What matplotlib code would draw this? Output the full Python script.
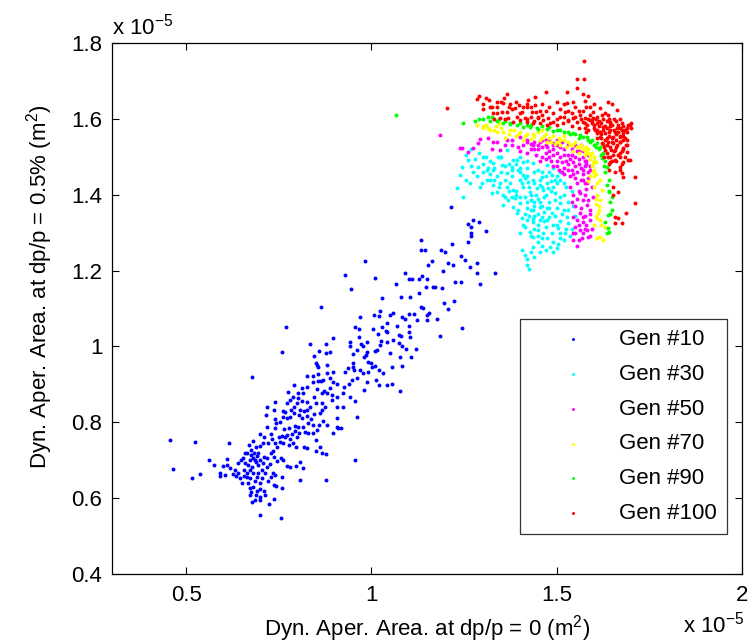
import matplotlib
matplotlib.use("Agg")
import matplotlib.pyplot as plt

# ---------------- data (units of 1e-5 m^2) ----------------
gen10 = [(0.456,0.753),(0.464,0.677),(0.524,0.748),(0.516,0.653),(0.537,0.664),(0.562,0.70),(0.575,0.687),(0.616,0.746),(0.678,0.919),(0.759,0.985),(0.770,1.051),(0.864,1.104),(0.929,1.188),(0.945,1.151),(0.983,1.225),(1.010,1.180),(1.029,1.128),(1.066,1.165),(1.215,1.368),(1.274,1.333),(1.290,1.328),(1.309,1.304),(1.261,1.323),(1.269,1.315),(1.269,1.299),(1.269,1.291),(1.261,1.275),(1.217,1.270),(1.333,1.194),(1.293,1.165),(1.285,1.194),(1.285,1.220),(1.266,1.209),(1.253,1.228),(1.242,1.238),(1.220,1.215),(1.207,1.220),(1.193,1.199),(1.188,1.254),(1.199,1.249),(1.163,1.225),(1.153,1.215),(1.134,1.254),(1.145,1.254),(1.134,1.280),(1.226,1.170),(1.242,1.170),(1.223,1.120),(1.207,1.099),(1.196,1.115),(1.244,1.049),(1.185,1.028),(1.177,1.072),(1.155,1.088),(1.150,1.083),(1.150,1.070),(1.134,1.104),(1.139,1.101),(1.172,1.157),(1.190,1.154),(1.166,1.157),(1.147,1.157),(1.128,1.141),(1.104,1.130),(1.080,1.130),(1.101,1.178),(1.109,1.178),(1.128,1.178),(1.136,1.186),(1.150,1.178),(1.091,1.194),(1.115,1.086),(1.101,1.086),(1.091,1.072),(1.082,1.078),(1.069,1.054),(1.058,1.088),(1.050,1.083),(1.042,1.062),(1.039,1.041),(1.029,1.051),(1.021,1.080),(1.023,1.093),(1.007,1.083),(1.004,1.046),(1.018,1.033),(1.042,1.038),(1.074,1.030),(1.080,1.028),(1.101,1.038),(1.101,1.054),(1.058,1.017),(1.074,1.009),(1.082,1.001),(1.093,0.993),(1.120,0.993),(1.107,0.972),(1.082,0.948),(1.077,0.883),(1.056,0.901),(1.042,0.898),(1.021,0.898),(1.012,0.912),(0.980,0.885),(0.988,0.906),(1.010,0.948),(1.021,0.938),(1.010,0.988),(1.015,0.991),(1.023,1.004),(1.026,1.014),(0.988,0.985),(0.985,0.977),(0.980,0.972),(1.002,0.946),(0.961,0.991),(0.972,1.006),(0.942,1.012),(0.942,1.001),(0.950,0.980),(0.967,1.025),(0.967,1.046),(0.956,1.051),(0.969,1.078),(0.896,1.022),(0.877,1.006),(0.888,0.985),(0.877,0.983),(0.858,0.988),(0.845,0.975),(0.834,1.006),(0.850,0.956),(0.853,0.951),(0.880,0.951),(0.896,0.933),(0.880,0.930),(0.856,0.927),(0.826,0.922),(0.842,0.922),(0.856,0.909),(0.864,0.909),(0.888,0.917),(0.896,0.906),(0.888,0.891),(0.907,0.901),(0.929,0.933),(0.937,0.943),(0.950,0.946),(0.953,0.938),(0.969,0.938),(0.961,0.917),(0.948,0.912),(0.940,0.901),(0.923,0.877),(0.926,0.893),(0.942,0.867),(0.956,0.856),(0.923,0.840),(0.907,0.811),(0.896,0.772),(0.910,0.785),(0.918,0.785),(0.961,0.814),(0.956,0.701),(0.877,0.648),(0.877,0.716),(0.867,0.719),(0.850,0.724),(0.861,0.735),(0.850,0.753),(0.853,0.780),(0.858,0.793),(0.869,0.803),(0.867,0.832),(0.875,0.840),(0.867,0.851),(0.850,0.851),(0.845,0.867),(0.853,0.888),(0.872,0.883),(0.867,0.877),(0.842,0.906),(0.826,0.893),(0.815,0.877),(0.802,0.877),(0.791,0.898),(0.775,0.880),(0.780,0.859),(0.799,0.851),(0.812,0.856),(0.826,0.853),(0.834,0.840),(0.826,0.832),(0.818,0.830),(0.807,0.832),(0.791,0.824),(0.783,0.832),(0.767,0.827),(0.762,0.814),(0.772,0.811),(0.780,0.814),(0.805,0.819),(0.813,0.811),(0.826,0.816),(0.837,0.809),(0.845,0.822),(0.829,0.798),(0.842,0.793),(0.815,0.788),(0.802,0.788),(0.794,0.790),(0.778,0.785),(0.764,0.782),(0.740,0.785),(0.718,0.788),(0.742,0.798),(0.753,0.801),(0.740,0.809),(0.762,0.830),(0.737,0.832),(0.718,0.840),(0.740,0.853),(0.716,0.819),(0.794,0.777),(0.786,0.769),(0.772,0.767),(0.767,0.761),(0.780,0.756),(0.799,0.761),(0.805,0.772),(0.821,0.775),(0.829,0.772),(0.818,0.735),(0.826,0.732),(0.797,0.735),(0.788,0.746),(0.778,0.740),(0.762,0.746),(0.753,0.748),(0.740,0.746),(0.732,0.756),(0.721,0.746),(0.707,0.746),(0.699,0.738),(0.689,0.735),(0.681,0.751),(0.670,0.740),(0.664,0.719),(0.675,0.727),(0.683,0.719),(0.691,0.711),(0.681,0.706),(0.672,0.701),(0.689,0.695),(0.694,0.687),(0.678,0.682),(0.667,0.687),(0.654,0.706),(0.659,0.693),(0.648,0.701),(0.640,0.693),(0.632,0.674),(0.640,0.666),(0.627,0.664),(0.645,0.653),(0.656,0.659),(0.664,0.666),(0.672,0.674),(0.681,0.666),(0.672,0.653),(0.667,0.640),(0.672,0.627),(0.681,0.629),(0.699,0.640),(0.704,0.653),(0.713,0.666),(0.718,0.682),(0.707,0.693),(0.710,0.709),(0.718,0.706),(0.729,0.719),(0.737,0.709),(0.745,0.698),(0.756,0.706),(0.762,0.701),(0.772,0.685),(0.780,0.682),(0.796,0.685),(0.807,0.695),(0.815,0.680),(0.807,0.648),(0.759,0.656),(0.740,0.661),(0.734,0.666),(0.737,0.635),(0.742,0.632),(0.759,0.627),(0.737,0.598),(0.713,0.608),(0.699,0.603),(0.689,0.608),(0.672,0.608),(0.678,0.590),(0.686,0.595),(0.699,0.595),(0.724,0.585),(0.699,0.556),(0.756,0.548),(0.610,0.703),(0.610,0.687),(0.600,0.685),(0.591,0.666),(0.592,0.658),(0.605,0.661),(0.618,0.680),(0.635,0.659),(0.791,0.840),(0.802,0.864),(0.788,0.867),(0.772,0.851),(0.813,0.891),(0.856,0.946),(0.869,0.912),(0.880,0.877),(0.894,0.859),(0.907,0.867),(0.894,0.872),(0.907,0.840),(0.861,0.824),(0.842,0.772),(0.880,0.793),(0.907,0.788),(0.977,0.930),(0.991,0.933),(0.999,0.956),(1.031,0.930),(1.056,0.946),(1.104,1.025),(1.123,1.070),(1.077,0.972),(1.050,0.983),(1.042,1.012),(0.988,1.012),(0.977,1.001),(0.991,0.959),(0.950,0.956),(0.66,0.72),(0.695,0.72),(0.70,0.70),(0.685,0.70),(0.675,0.715),(0.695,0.665),(0.705,0.675),(0.69,0.655),(0.685,0.645),(0.70,0.625),(0.69,0.62),(0.675,0.615),(0.71,0.62),(0.72,0.645),(0.73,0.655),(0.725,0.69),(0.735,0.725),(0.745,0.735),(0.75,0.76),(0.76,0.765),(0.73,0.77),(0.71,0.76),(0.70,0.77),(0.655,0.675),(0.665,0.655),(0.65,0.64)]

gen30 = [(1.301,1.481),(1.315,1.470),(1.328,1.465),(1.342,1.499),(1.352,1.478),(1.366,1.457),(1.379,1.473),(1.393,1.492),(1.401,1.470),(1.409,1.452),(1.423,1.434),(1.436,1.484),(1.450,1.465),(1.460,1.447),(1.474,1.478),(1.487,1.452),(1.501,1.431),(1.509,1.394),(1.495,1.405),(1.477,1.418),(1.463,1.413),(1.447,1.418),(1.428,1.407),(1.414,1.394),(1.401,1.378),(1.420,1.365),(1.436,1.360),(1.455,1.368),(1.474,1.365),(1.487,1.352),(1.474,1.333),(1.455,1.333),(1.436,1.328),(1.420,1.333),(1.406,1.339),(1.409,1.320),(1.428,1.302),(1.436,1.289),(1.450,1.307),(1.463,1.299),(1.474,1.286),(1.487,1.299),(1.503,1.312),(1.509,1.286),(1.522,1.299),(1.531,1.325),(1.528,1.341),(1.501,1.365),(1.509,1.378),(1.406,1.254),(1.414,1.241),(1.420,1.215),(1.425,1.205),(1.436,1.262),(1.450,1.275),(1.482,1.262),(1.503,1.270),(1.366,1.420),(1.382,1.413),(1.388,1.392),(1.374,1.431),(1.347,1.431),(1.328,1.426),(1.312,1.439),(1.298,1.431),(1.325,1.405),(1.339,1.407),(1.355,1.399),(1.369,1.386),(1.382,1.368),(1.393,1.352),(1.355,1.373),(1.244,1.473),(1.261,1.492),(1.239,1.452),(1.231,1.418),(1.266,1.431),(1.274,1.460),(1.247,1.394),(1.288,1.473),(1.293,1.420),(1.312,1.465),(1.320,1.439),(1.328,1.484),(1.347,1.499),(1.366,1.518),(1.382,1.492),(1.401,1.499),(1.40,1.44),(1.41,1.42),(1.42,1.45),(1.43,1.40),(1.44,1.43),(1.45,1.39),(1.46,1.42),(1.47,1.40),(1.44,1.38),(1.42,1.38),(1.39,1.41),(1.43,1.36),(1.45,1.35),(1.46,1.37),(1.48,1.38),(1.49,1.42),(1.50,1.45),(1.51,1.46),(1.52,1.43),(1.40,1.46),(1.38,1.45),(1.36,1.44),(1.35,1.46),(1.34,1.45),(1.33,1.47),(1.31,1.50),(1.29,1.51),(1.27,1.52),(1.255,1.505),(1.44,1.46),(1.455,1.44),(1.47,1.45),(1.485,1.435),(1.42,1.47),(1.41,1.485),(1.37,1.48),(1.35,1.50),(1.39,1.40),(1.40,1.395),(1.415,1.35),(1.44,1.345),(1.46,1.34),(1.47,1.315),(1.44,1.31),(1.45,1.29),(1.49,1.32),(1.51,1.33),(1.52,1.36),(1.53,1.38),(1.52,1.40),(1.54,1.41),(1.43,1.25),(1.42,1.23),(1.46,1.265),(1.49,1.275),(1.52,1.28),(1.535,1.29),(1.54,1.31),(1.55,1.345),(1.545,1.37),(1.395,1.465),(1.405,1.43),(1.415,1.445),(1.425,1.42),(1.435,1.44),(1.445,1.40),(1.455,1.425),(1.465,1.395),(1.475,1.43),(1.485,1.41),(1.495,1.44),(1.43,1.385),(1.44,1.37),(1.455,1.38),(1.465,1.355),(1.48,1.365),(1.495,1.385),(1.425,1.345),(1.435,1.335),(1.45,1.32),(1.465,1.33),(1.48,1.34),(1.495,1.345),(1.50,1.32),(1.415,1.315),(1.43,1.29),(1.40,1.30),(1.395,1.36),(1.38,1.395),(1.37,1.41),(1.36,1.395),(1.345,1.42),(1.33,1.44),(1.32,1.455),(1.30,1.46),(1.285,1.45),(1.27,1.475),(1.255,1.44),(1.28,1.495),(1.30,1.50),(1.32,1.49),(1.36,1.475),(1.38,1.465),(1.39,1.48),(1.42,1.49),(1.46,1.46),(1.48,1.46),(1.49,1.47),(1.51,1.44),(1.525,1.42),(1.515,1.35),(1.53,1.36),(1.51,1.30),(1.525,1.31),(1.46,1.285),(1.455,1.25),(1.47,1.255),(1.44,1.235),(1.49,1.25),(1.50,1.26)]

gen50 = [(1.185,1.557),(1.239,1.523),(1.261,1.513),(1.293,1.547),(1.315,1.550),(1.328,1.539),(1.274,1.523),(1.288,1.536),(1.244,1.523),(1.347,1.518),(1.366,1.544),(1.379,1.531),(1.401,1.552),(1.396,1.526),(1.420,1.544),(1.436,1.531),(1.455,1.539),(1.474,1.526),(1.490,1.536),(1.41,1.53),(1.43,1.52),(1.45,1.52),(1.46,1.545),(1.47,1.51),(1.48,1.545),(1.49,1.52),(1.50,1.53),(1.51,1.50),(1.50,1.545),(1.52,1.52),(1.53,1.505),(1.54,1.52),(1.55,1.50),(1.56,1.515),(1.57,1.50),(1.58,1.49),(1.575,1.475),(1.56,1.48),(1.545,1.485),(1.53,1.48),(1.515,1.485),(1.50,1.49),(1.49,1.505),(1.48,1.50),(1.46,1.50),(1.445,1.505),(1.42,1.51),(1.40,1.515),(1.52,1.47),(1.54,1.465),(1.555,1.46),(1.57,1.455),(1.585,1.46),(1.59,1.475),(1.55,1.445),(1.535,1.45),(1.52,1.455),(1.505,1.465),(1.49,1.475),(1.53,1.535),(1.55,1.53),(1.565,1.53),(1.57,1.515),(1.585,1.505),(1.47,1.53),(1.44,1.54),(1.38,1.545),(1.36,1.53),(1.34,1.54),(1.325,1.52),(1.536,1.420),(1.555,1.431),(1.563,1.405),(1.571,1.386),(1.582,1.373),(1.590,1.360),(1.563,1.352),(1.555,1.333),(1.571,1.328),(1.590,1.333),(1.563,1.307),(1.582,1.307),(1.549,1.299),(1.568,1.286),(1.544,1.281),(1.584,1.289),(1.598,1.394),(1.582,1.431),(1.57,1.44),(1.58,1.415),(1.595,1.42),(1.545,1.40),(1.55,1.37),(1.575,1.345),(1.545,1.34),(1.56,1.32),(1.58,1.32),(1.595,1.31),(1.555,1.265),(1.57,1.30),(1.42,1.54),(1.43,1.535),(1.45,1.53),(1.46,1.525),(1.47,1.545),(1.48,1.515),(1.49,1.53),(1.50,1.51),(1.51,1.525),(1.515,1.54),(1.525,1.49),(1.535,1.495),(1.54,1.505),(1.545,1.53),(1.555,1.515),(1.56,1.495),(1.565,1.47),(1.575,1.49),(1.58,1.48),(1.59,1.465),(1.585,1.445),(1.57,1.465),(1.545,1.455),(1.53,1.465),(1.515,1.46),(1.50,1.475),(1.485,1.49),(1.47,1.495),(1.455,1.49),(1.44,1.52),(1.52,1.505),(1.55,1.475),(1.565,1.44),(1.575,1.43),(1.56,1.41),(1.575,1.40),(1.585,1.385),(1.555,1.39),(1.54,1.38),(1.565,1.365),(1.59,1.35),(1.57,1.34),(1.55,1.315),(1.575,1.31),(1.59,1.29),(1.56,1.28),(1.545,1.30)]

gen70 = [(1.285,1.584),(1.30,1.575),(1.32,1.57),(1.335,1.58),(1.34,1.565),(1.35,1.575),(1.37,1.56),(1.385,1.57),(1.39,1.555),(1.40,1.565),(1.42,1.56),(1.43,1.548),(1.44,1.555),(1.45,1.565),(1.46,1.55),(1.47,1.56),(1.475,1.54),(1.48,1.55),(1.49,1.555),(1.50,1.54),(1.505,1.55),(1.51,1.53),(1.52,1.545),(1.525,1.525),(1.53,1.54),(1.54,1.53),(1.545,1.515),(1.55,1.54),(1.555,1.525),(1.56,1.51),(1.565,1.53),(1.57,1.52),(1.575,1.505),(1.58,1.525),(1.585,1.51),(1.59,1.495),(1.595,1.51),(1.60,1.50),(1.605,1.485),(1.598,1.484),(1.60,1.465),(1.598,1.460),(1.59,1.45),(1.585,1.435),(1.617,1.439),(1.60,1.45),(1.622,1.413),(1.61,1.40),(1.617,1.386),(1.605,1.375),(1.612,1.352),(1.609,1.339),(1.617,1.333),(1.63,1.315),(1.617,1.289),(1.625,1.281),(1.60,1.32),(1.615,1.36),(1.60,1.42),(1.36,1.55),(1.41,1.545),(1.52,1.555),(1.46,1.57),(1.31,1.585),(1.345,1.59),(1.30,1.58),(1.315,1.575),(1.33,1.57),(1.355,1.565),(1.375,1.57),(1.395,1.56),(1.415,1.555),(1.435,1.56),(1.455,1.545),(1.465,1.555),(1.485,1.54),(1.495,1.535),(1.51,1.545),(1.535,1.53),(1.545,1.535),(1.56,1.525),(1.575,1.515),(1.585,1.52),(1.59,1.505),(1.60,1.49),(1.595,1.475),(1.605,1.455),(1.61,1.43),(1.605,1.39),(1.615,1.37),(1.605,1.345),(1.62,1.32),(1.61,1.285)]

gen90 = [(1.065,1.61),(1.247,1.589),(1.315,1.605),(1.325,1.605),(1.339,1.595),(1.355,1.589),(1.374,1.586),(1.393,1.584),(1.409,1.579),(1.428,1.579),(1.447,1.576),(1.474,1.573),(1.490,1.568),(1.509,1.571),(1.531,1.566),(1.544,1.563),(1.563,1.558),(1.582,1.552),(1.595,1.545),(1.609,1.536),(1.617,1.526),(1.625,1.510),(1.622,1.497),(1.627,1.476),(1.636,1.473),(1.636,1.426),(1.641,1.407),(1.649,1.394),(1.649,1.360),(1.638,1.347),(1.641,1.302),(1.638,1.312),(1.630,1.328),(1.36,1.595),(1.40,1.59),(1.43,1.585),(1.46,1.58),(1.48,1.578),(1.52,1.565),(1.55,1.56),(1.57,1.553),(1.59,1.54),(1.60,1.53),(1.615,1.52),(1.63,1.49),(1.64,1.44),(1.645,1.38),(1.30,1.60),(1.28,1.595),(1.29,1.60),(1.32,1.595),(1.345,1.60),(1.375,1.59),(1.42,1.583),(1.45,1.572),(1.50,1.57),(1.535,1.56),(1.56,1.55),(1.585,1.545),(1.605,1.525),(1.62,1.505),(1.63,1.46),(1.64,1.41),(1.645,1.35),(1.635,1.30)]

gen100 = [(1.574,1.753),(1.555,1.705),(1.574,1.705),(1.555,1.681),(1.528,1.671),(1.571,1.665),(1.584,1.660),(1.576,1.647),(1.471,1.671),(1.366,1.665),(1.358,1.655),(1.290,1.660),(1.285,1.652),(1.204,1.629),(1.317,1.650),(1.339,1.644),(1.325,1.631),(1.355,1.642),(1.374,1.639),(1.388,1.629),(1.398,1.637),(1.420,1.631),(1.423,1.650),(1.441,1.658),(1.441,1.637),(1.444,1.618),(1.433,1.618),(1.406,1.618),(1.393,1.605),(1.382,1.592),(1.366,1.618),(1.352,1.618),(1.328,1.615),(1.347,1.602),(1.369,1.602),(1.401,1.597),(1.414,1.602),(1.431,1.605),(1.449,1.602),(1.463,1.597),(1.477,1.602),(1.482,1.589),(1.490,1.592),(1.509,1.605),(1.522,1.618),(1.541,1.615),(1.544,1.602),(1.563,1.610),(1.576,1.602),(1.598,1.618),(1.617,1.629),(1.622,1.610),(1.638,1.644),(1.649,1.639),(1.663,1.623),(1.638,1.610),(1.644,1.592),(1.625,1.579),(1.609,1.589),(1.595,1.589),(1.582,1.584),(1.585,1.571),(1.603,1.571),(1.617,1.566),(1.630,1.563),(1.644,1.571),(1.657,1.566),(1.671,1.576),(1.692,1.584),(1.700,1.589),(1.671,1.552),(1.684,1.550),(1.687,1.532),(1.679,1.523),(1.690,1.513),(1.692,1.492),(1.671,1.510),(1.657,1.518),(1.652,1.536),(1.638,1.539),(1.636,1.550),(1.630,1.518),(1.638,1.500),(1.644,1.486),(1.657,1.492),(1.671,1.473),(1.657,1.460),(1.676,1.457),(1.679,1.447),(1.711,1.447),(1.652,1.420),(1.665,1.407),(1.652,1.399),(1.711,1.378),(1.687,1.352),(1.657,1.341),(1.665,1.339),(1.676,1.325),(1.657,1.325),(1.617,1.552),(1.609,1.550),(1.622,1.536),(1.627,1.526),(1.598,1.602),(1.590,1.597),(1.571,1.592),(1.555,1.592),(1.531,1.597),(1.517,1.589),(1.501,1.584),(1.474,1.584),(1.455,1.589),(1.436,1.589),(1.420,1.592),(1.576,1.576),(1.609,1.563),(1.652,1.552),(1.671,1.539),(1.663,1.531),(1.646,1.518),(1.652,1.505),(1.627,1.500),(1.663,1.576),(1.679,1.563),(1.690,1.545),(1.62,1.59),(1.63,1.58),(1.64,1.60),(1.65,1.585),(1.66,1.595),(1.67,1.60),(1.68,1.58),(1.66,1.56),(1.64,1.565),(1.62,1.56),(1.61,1.57),(1.60,1.585),(1.68,1.555),(1.69,1.53),(1.67,1.54),(1.65,1.55),(1.635,1.53),(1.66,1.525),(1.675,1.515),(1.69,1.565),(1.70,1.575),(1.65,1.49),(1.67,1.50),(1.64,1.48),(1.68,1.485),(1.63,1.615),(1.61,1.605),(1.59,1.61),(1.57,1.62),(1.55,1.63),(1.53,1.62),(1.51,1.625),(1.49,1.615),(1.47,1.62),(1.45,1.605),(1.43,1.63),(1.40,1.615),(1.38,1.625),(1.36,1.60),(1.34,1.615),(1.32,1.63),(1.30,1.64),(1.31,1.655),(1.35,1.645),(1.42,1.60),(1.56,1.575),(1.58,1.565),(1.54,1.58),(1.565,1.60),(1.575,1.59),(1.585,1.60),(1.595,1.595),(1.605,1.60),(1.615,1.595),(1.625,1.60),(1.635,1.595),(1.645,1.59),(1.655,1.60),(1.665,1.585),(1.675,1.59),(1.685,1.57),(1.60,1.575),(1.615,1.58),(1.625,1.57),(1.635,1.575),(1.645,1.58),(1.655,1.57),(1.665,1.565),(1.675,1.57),(1.62,1.55),(1.63,1.545),(1.64,1.555),(1.65,1.54),(1.66,1.545),(1.67,1.555),(1.68,1.545),(1.625,1.535),(1.645,1.525),(1.655,1.515),(1.665,1.505),(1.68,1.52),(1.635,1.51),(1.645,1.50),(1.66,1.49),(1.675,1.48),(1.685,1.50),(1.64,1.465),(1.67,1.465),(1.30,1.625),(1.33,1.60),(1.34,1.63),(1.37,1.63),(1.39,1.645),(1.41,1.63),(1.42,1.64),(1.44,1.595),(1.46,1.61),(1.48,1.63),(1.50,1.60),(1.52,1.605),(1.53,1.595),(1.55,1.605),(1.56,1.62),(1.58,1.63),(1.60,1.64),(1.52,1.64),(1.50,1.645),(1.46,1.64),(1.455,1.62),(1.528,1.642),(1.544,1.644),(1.590,1.631),(1.697,1.584),(1.689,1.576),(1.697,1.492)]

series_labels = ["Gen #10", "Gen #30", "Gen #50", "Gen #70", "Gen #90", "Gen #100"]
series_colors = ["#0000ff", "#00ffff", "#ff00ff", "#ffff00", "#00ff00", "#ff0000"]
series_data = [gen10, gen30, gen50, gen70, gen90, gen100]

x_ticks = [0.5, 1.0, 1.5, 2.0]
x_tick_labels = ["0.5", "1", "1.5", "2"]
y_ticks = [0.4, 0.6, 0.8, 1.0, 1.2, 1.4, 1.6, 1.8]
y_tick_labels = ["0.4", "0.6", "0.8", "1", "1.2", "1.4", "1.6", "1.8"]

# ---------------- figure ----------------
plt.rcParams['font.family'] = ['Liberation Sans', 'DejaVu Sans']
plt.rcParams['mathtext.fontset'] = 'custom'
plt.rcParams['mathtext.rm'] = 'Liberation Sans'
plt.rcParams['mathtext.it'] = 'Liberation Sans:italic'

W, H = 751, 643
fig = plt.figure(figsize=(W/100, H/100), dpi=100)
ax = fig.add_axes([112/W, 1-574/H, 630/W, 531/H])

for data, lab, col in zip(series_data, series_labels, series_colors):
    xs = [p[0] for p in data]
    ys = [p[1] for p in data]
    ax.scatter(xs, ys, s=8, c=col, marker='o', linewidths=0, label=lab)

ax.set_xlim(0.3, 2.0)
ax.set_ylim(0.4, 1.8)
ax.set_xticks(x_ticks)
ax.set_xticklabels(x_tick_labels)
ax.set_yticks(y_ticks)
ax.set_yticklabels(y_tick_labels)
ax.tick_params(direction='in', length=5, width=0.8, top=True, right=True,
               labelsize=16, pad=7)
ax.tick_params(axis='x', pad=8)
for sp in ax.spines.values():
    sp.set_linewidth(0.9)

ax.set_xlabel(r"Dyn. Aper. Area. at dp/p = 0 (m$\mathregular{^2}$)", fontsize=16)
ax.set_ylabel(r"Dyn. Aper. Area. at dp/p = 0.5% (m$\mathregular{^2}$)", fontsize=16)
ax.xaxis.set_label_coords(0.5, (574-613)/531)
ax.yaxis.set_label_coords((55-112)/630, (574-287)/531)

fig.text(112/W, 1-35/H, r"x 10$\mathregular{^{-5}}$", fontsize=16, ha='left', va='baseline')
fig.text(744/W, 1-632/H, r"x 10$\mathregular{^{-5}}$", fontsize=16, ha='right', va='baseline')

leg = ax.legend(loc='upper right', bbox_to_anchor=((727-112)/630, (574-319)/531), fontsize=16,
                markerscale=0.75, frameon=True, fancybox=False, edgecolor='black',
                borderpad=0.45, labelspacing=0.62, handletextpad=0.2, borderaxespad=0,
                handlelength=3.8)
leg.get_frame().set_linewidth(0.9)

fig.savefig("out.png", dpi=100)
